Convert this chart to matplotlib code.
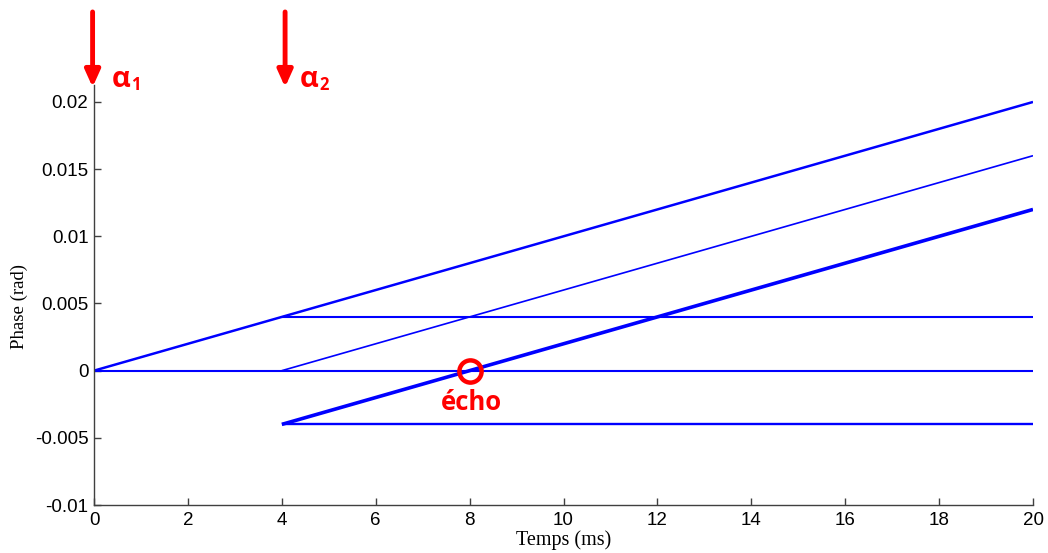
import matplotlib
matplotlib.use("Agg")
import matplotlib.pyplot as plt
import numpy as np

# Data (time in ms, phase in rad)
t_start = [0, 0, 4, 4, 4, 4]
t_end = [20, 20, 20, 20, 20, 20]
phase_start = [0.0, 0.0, 0.004, 0.0, -0.004, -0.004]
phase_end = [0.020, 0.0, 0.004, 0.016, 0.012, -0.004]
widths = [1.8, 1.5, 1.5, 1.2, 2.6, 1.7]

x_ticks = [0, 2, 4, 6, 8, 10, 12, 14, 16, 18, 20]
y_ticks = [-0.01, -0.005, 0, 0.005, 0.01, 0.015, 0.02]
y_ticklabels = ["-0.01", "-0.005", "0", "0.005", "0.01", "0.015", "0.02"]

echo_t, echo_phase = 8, 0.0
pulse_times = [0, 4]
pulse_labels = ["α", "α"]
pulse_subs = ["1", "2"]

fig = plt.figure(figsize=(10.48, 5.53), dpi=100)
ax = fig.add_axes([94/1048, 48/553, (1033-94)/1048, (505-84.5)/553])

for x0, x1, y0, y1, w in zip(t_start, t_end, phase_start, phase_end, widths):
    ax.plot([x0, x1], [y0, y1], color=(0, 0, 1), lw=w, solid_capstyle='butt')

ax.set_xlim(0, 20)
ax.set_ylim(-0.01, 0.0213)
ax.set_xticks(x_ticks)
ax.set_xticklabels([str(v) for v in x_ticks])
ax.set_yticks(y_ticks)
ax.set_yticklabels(y_ticklabels)

for s in ['top', 'right']:
    ax.spines[s].set_visible(False)
for s in ['left', 'bottom']:
    ax.spines[s].set_color('#404040')
    ax.spines[s].set_linewidth(1.0)

ax.tick_params(direction='in', length=5, width=1, color='#404040',
               labelsize=13.5)
ax.tick_params(axis='x', pad=5)
ax.tick_params(axis='y', pad=4)
for lab in ax.get_xticklabels() + ax.get_yticklabels():
    lab.set_family('Liberation Sans')

ax.set_xlabel("Temps (ms)", family='Liberation Serif', fontsize=14.5,
              labelpad=1)
ax.set_ylabel("Phase (rad)", family='Liberation Serif', fontsize=13.5,
              labelpad=4)
ax.yaxis.set_label_coords(-0.07, 0.473)

# echo marker
ax.plot([echo_t], [echo_phase], 'o', ms=16, mfc='none', mec='red', mew=3.2,
        clip_on=False, zorder=5)
ax.text(echo_t + 0.04, -0.0024, "écho", color='red', family='Open Sans',
        fontweight='bold', fontsize=18.5, ha='center', va='center')

# pulse arrows and labels
for tp, lab, sub in zip(pulse_times, pulse_labels, pulse_subs):
    xa = tp - 0.03 if tp == 0 else tp + 0.07
    ax.annotate("", xy=(xa, 0.0211), xytext=(xa, 0.0267),
                arrowprops=dict(arrowstyle='-|>,head_width=0.45,head_length=1.0',
                                color='red', lw=3.5, shrinkA=0, shrinkB=0),
                annotation_clip=False)
    tx = tp + 0.38
    ax.annotate(lab, xy=(tx, 0.0217), color='red', family='Open Sans',
                fontweight='bold', fontsize=21, ha='left', va='center',
                annotation_clip=False)
    ax.annotate(sub, xy=(tx, 0.0217), xytext=(14, -4), textcoords='offset points',
                color='red', family='Open Sans', fontweight='bold', fontsize=12,
                ha='left', va='center', annotation_clip=False)

fig.savefig("out.png", dpi=100)
